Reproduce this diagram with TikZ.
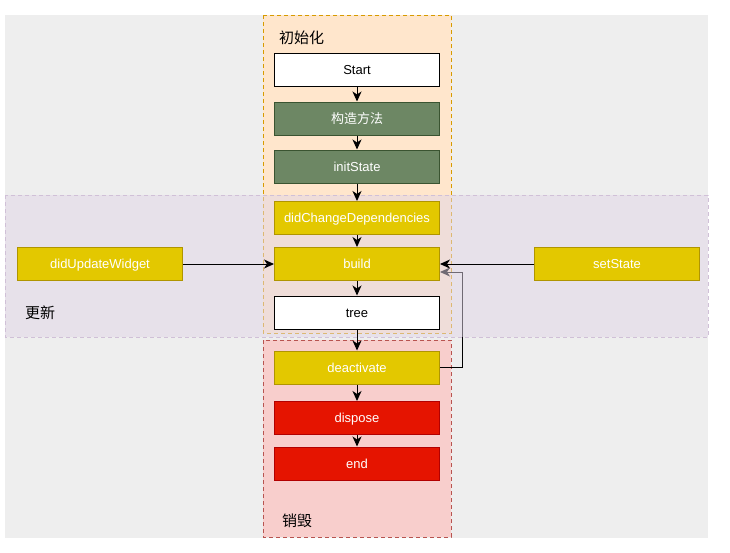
\documentclass[tikz,border=0pt]{standalone}
\usepackage{fontspec}
\setmainfont{Liberation Sans}
\newfontfamily\cjk{Noto Sans CJK SC}
\usetikzlibrary{arrows.meta}
\pgfdeclarelayer{bglayer}
\pgfdeclarelayer{midlayer}
\pgfsetlayers{bglayer,midlayer,main}
\definecolor{bggray}{HTML}{EEEEEE}
\definecolor{orfill}{HTML}{FFE6CC}
\definecolor{orline}{HTML}{D79B00}
\definecolor{pufill}{HTML}{E1D5E7}
\definecolor{puline}{HTML}{9673A6}
\definecolor{rdfill}{HTML}{F8CECC}
\definecolor{rdline}{HTML}{B85450}
\definecolor{grfill}{HTML}{6D8764}
\definecolor{grline}{HTML}{3A5431}
\definecolor{yefill}{HTML}{E3C800}
\definecolor{yeline}{HTML}{B09500}
\definecolor{refill}{HTML}{E51400}
\definecolor{reline}{HTML}{B20000}
\tikzset{
  box/.style={draw, line width=1pt, minimum width=165pt, minimum height=33pt, inner sep=0pt,
    text height=9.5pt, text depth=0pt, font=\fontsize{13}{15}\selectfont},
  whitebox/.style={box, fill=white, draw=black},
  greenbox/.style={box, fill=grfill, draw=grline, text=white},
  yellowbox/.style={box, fill=yefill, draw=yeline, text=white},
  redbox/.style={box, fill=refill, draw=reline, text=white},
  conn/.style={draw=black, line width=1pt, -{Stealth[length=10pt,width=9pt,inset=3pt]}},
  grouplabel/.style={font=\cjk\fontsize{15}{17}\selectfont, anchor=west, inner sep=0pt},
}
\begin{document}
\begin{tikzpicture}[x=1pt,y=-1pt]
\useasboundingbox (0,0) rectangle (730,552);
\begin{pgfonlayer}{bglayer}
\fill[bggray] (5,15) rectangle (708,538);
\draw[fill=orfill, draw=orline, dash pattern=on 4pt off 3pt, line width=0.8pt] (263,15) rectangle (451,333);
\draw[fill=rdfill, draw=rdline, dash pattern=on 4pt off 3pt, line width=0.8pt] (263,340) rectangle (451,537);
\end{pgfonlayer}
% nodes
\node[whitebox] (start) at (357,69.5) {Start};
\node[greenbox] (ctor) at (357,118.5) {\cjk 构造方法};
\node[greenbox] (init) at (357,166.5) {initState};
\node[yellowbox] (dcd) at (357,218) {didChangeDependencies};
\node[yellowbox] (build) at (357,264) {build};
\node[whitebox] (tree) at (357,312.5) {tree};
\node[yellowbox] (deact) at (357,367.5) {deactivate};
\node[redbox] (dispose) at (357,418) {dispose};
\node[redbox] (end) at (357,463.5) {end};
\node[yellowbox] (duw) at (100,264) {didUpdateWidget};
\node[yellowbox] (setst) at (617,264) {setState};
% loop edge beneath the translucent update group
\begin{pgfonlayer}{midlayer}
\coordinate (loopa) at (462,367.5);
\coordinate (loopb) at (462,272);
\draw[conn] (deact.east) -- (loopa) -- (loopb) -- ([yshift=-8pt]build.east);
\draw[fill=pufill, fill opacity=0.5, draw=puline!45!white, dash pattern=on 4pt off 3pt, line width=0.8pt] (5,195) rectangle (708,337);
\end{pgfonlayer}
% edges
\draw[conn] (start) -- (ctor);
\draw[conn] (ctor) -- (init);
\draw[conn] (init) -- (dcd);
\draw[conn] (dcd) -- (build);
\draw[conn] (build) -- (tree);
\draw[conn] (tree) -- (deact);
\draw[conn] (deact) -- (dispose);
\draw[conn] (dispose) -- (end);
\draw[conn] (duw) -- (build);
\draw[conn] (setst) -- (build);
% labels
\node[grouplabel] (lbinit) at (279,38) {初始化};
\node[grouplabel] (lbupd) at (25,313) {更新};
\node[grouplabel] (lbdes) at (282,521) {销毁};
\end{tikzpicture}
\end{document}
